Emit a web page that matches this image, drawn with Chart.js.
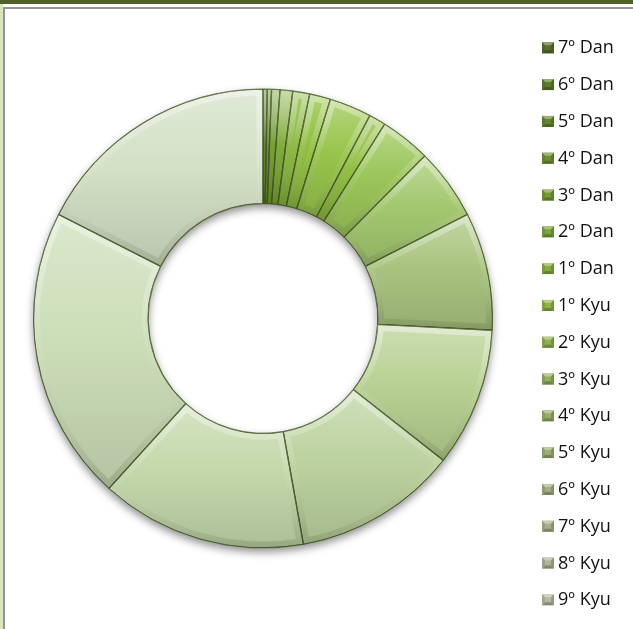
<!DOCTYPE html>
<html>
<head>
<meta charset="utf-8">
<script src="https://cdn.jsdelivr.net/npm/chart.js@4.4.1/dist/chart.umd.min.js"></script>
<style>
  html, body { margin: 0; padding: 0; background: #fff; }
  #wrap { position: relative; width: 633px; height: 629px; overflow: hidden; }
  #topbar { position: absolute; left: 0; top: 0; width: 633px; height: 4px; background: #4f6228; }
  #sidebar { position: absolute; left: 0; top: 4px; width: 3px; height: 625px; background: #d7e4bd; }
  #frame { position: absolute; left: 3px; top: 7px; width: 660px; height: 660px; box-sizing: border-box;
           border-top: 2px solid #959595; border-left: 2px solid #959595; }
  canvas { position: absolute; left: 0; top: 0; }
</style>
</head>
<body>
<div id="wrap">
  <div id="topbar"></div>
  <div id="sidebar"></div>
  <div id="frame"></div>
  <canvas id="grades" width="633" height="629"></canvas>
</div>
<script>
// students per grade, highest first
const grades = ['7º Dan', '6º Dan', '5º Dan', '4º Dan', '3º Dan', '2º Dan', '1º Dan',
                '1º Kyu', '2º Kyu', '3º Kyu', '4º Kyu', '5º Kyu', '6º Kyu', '7º Kyu', '8º Kyu', '9º Kyu'];
const students = [1, 1, 2, 3, 4, 5, 10, 4, 12, 17, 28, 33, 39, 49, 70, 59];

const sliceColors = ['#5a7f24', '#64891f', '#6f9a2a', '#79a830', '#86b638', '#8fbf3f', '#97c54b', '#8dbd3d',
                     '#9bc65a', '#a3c86f', '#a9c47f', '#b7d092', '#bcd29f', '#c4d8ab', '#ccdeb8', '#d3e0c5'];
const keyColors = ['#56702a', '#5d7b2c', '#64862f', '#6c9133', '#749b37', '#7ca43c', '#84ac40', '#8bb345',
                   '#8eb14f', '#92af5b', '#96ad67', '#9aad72', '#9fae7e', '#a5b189', '#acb595', '#b4bba2'];

function shade(hex, amt) {
  const n = parseInt(hex.slice(1), 16);
  const t = amt < 0 ? 0 : 255, p = Math.abs(amt);
  const mix = v => Math.round(v + (t - v) * p);
  return 'rgb(' + mix(n >> 16) + ',' + mix((n >> 8) & 255) + ',' + mix(n & 255) + ')';
}

// top and bottom y of a ring segment, angles clockwise from 12 o'clock
function segmentSpan(cy, rIn, rOut, a0, a1) {
  const ys = [];
  [a0, a1].forEach(a => [rIn, rOut].forEach(r => ys.push(cy - r * Math.cos(a))));
  if (a0 <= Math.PI && a1 >= Math.PI) ys.push(cy + rOut);
  return [Math.min(...ys), Math.max(...ys)];
}

// vertical light-to-dark gradient across each slice's own height
function sliceFill(ctx) {
  const chart = ctx.chart;
  const area = chart.chartArea;
  const base = sliceColors[ctx.dataIndex];
  if (!area) return base;
  const cy = (area.top + area.bottom) / 2;
  const rOut = Math.min(area.width, area.height) / 2;
  const total = students.reduce((a, b) => a + b, 0);
  let before = 0;
  for (let k = 0; k < ctx.dataIndex; k++) before += students[k];
  const a0 = before / total * 2 * Math.PI;
  const a1 = (before + students[ctx.dataIndex]) / total * 2 * Math.PI;
  const [top, bottom] = segmentSpan(cy, rOut * 0.5, rOut, a0, a1);
  const g = chart.ctx.createLinearGradient(0, top, 0, bottom + 1);
  g.addColorStop(0, shade(base, 0.3));
  g.addColorStop(0.45, base);
  g.addColorStop(1, shade(base, -0.12));
  return g;
}

function arcPath(c, p) {
  c.beginPath();
  c.arc(p.x, p.y, p.outerRadius, p.startAngle, p.endAngle);
  c.arc(p.x, p.y, p.innerRadius, p.endAngle, p.startAngle, true);
  c.closePath();
}

const arcProps = ['x', 'y', 'startAngle', 'endAngle', 'innerRadius', 'outerRadius'];

// drop shadow under the ring and a bevelled edge on every slice
const ringEffects = {
  id: 'ringEffects',
  beforeDatasetsDraw(chart) {
    const arc = chart.getDatasetMeta(0).data[0];
    if (!arc) return;
    const p = arc.getProps(arcProps, true);
    const c = chart.ctx;
    c.save();
    c.shadowColor = 'rgba(0,0,0,0.45)';
    c.shadowBlur = 9;
    c.shadowOffsetY = 4;
    c.fillStyle = '#fff';
    c.beginPath();
    c.arc(p.x, p.y, p.outerRadius, 0, Math.PI * 2);
    c.arc(p.x, p.y, p.innerRadius, 0, Math.PI * 2, true);
    c.fill();
    c.restore();
  },
  afterDatasetsDraw(chart) {
    const c = chart.ctx;
    chart.getDatasetMeta(0).data.forEach(arc => {
      const p = arc.getProps(arcProps, true);
      const a0 = p.startAngle + Math.PI / 2, a1 = p.endAngle + Math.PI / 2;
      const [top, bottom] = segmentSpan(p.y, p.innerRadius, p.outerRadius, a0, a1);
      const g = c.createLinearGradient(0, top, 0, bottom + 1);
      g.addColorStop(0, 'rgba(255,255,255,0.42)');
      g.addColorStop(0.5, 'rgba(255,255,255,0.06)');
      g.addColorStop(1, 'rgba(30,40,10,0.16)');
      c.save();
      arcPath(c, p);
      c.clip();
      arcPath(c, p);
      c.lineWidth = 13;
      c.lineJoin = 'miter';
      c.strokeStyle = g;
      c.stroke();
      arcPath(c, p);
      c.lineWidth = 1.4;
      c.strokeStyle = 'rgba(62,80,30,0.8)';
      c.stroke();
      c.restore();
    });
  }
};

function keyBox(c, x, y, w, h, color) {
  const b = 3;
  c.fillStyle = color;
  c.fillRect(x, y, w, h);
  const face = (pts, fill) => {
    c.beginPath();
    c.moveTo(pts[0], pts[1]);
    for (let i = 2; i < pts.length; i += 2) c.lineTo(pts[i], pts[i + 1]);
    c.closePath();
    c.fillStyle = fill;
    c.fill();
  };
  face([x, y, x + w, y, x + w - b, y + b, x + b, y + b], shade(color, 0.35));
  face([x, y + h, x + w, y + h, x + w - b, y + h - b, x + b, y + h - b], shade(color, -0.25));
  face([x, y, x + b, y + b, x + b, y + h - b, x, y + h], shade(color, -0.1));
  face([x + w, y, x + w - b, y + b, x + w - b, y + h - b, x + w, y + h], shade(color, -0.18));
}

// legend list on the right, one row per grade
const gradeKey = {
  id: 'gradeKey',
  afterDraw(chart, args, opts) {
    const c = chart.ctx;
    c.save();
    c.font = opts.font;
    c.textBaseline = 'alphabetic';
    grades.forEach((label, i) => {
      const base = opts.y + i * opts.step;
      keyBox(c, opts.x, base - 11, 12, 11, keyColors[i]);
      c.fillStyle = opts.color;
      c.fillText(label, opts.x + 16, base);
    });
    c.restore();
  }
};

new Chart(document.getElementById('grades'), {
  type: 'doughnut',
  data: {
    labels: grades,
    datasets: [{
      data: students,
      backgroundColor: sliceFill,
      borderColor: 'rgba(62,80,30,0.8)',
      borderWidth: 1,
      hoverOffset: 0
    }]
  },
  options: {
    responsive: false,
    animation: false,
    events: [],
    cutout: '50%',
    layout: { padding: { left: 33, right: 140, top: 88, bottom: 80 } },
    plugins: {
      legend: { display: false },
      tooltip: { enabled: false },
      gradeKey: { x: 542, y: 53.3, step: 36.8, font: '18px "Open Sans"', color: '#111' }
    }
  },
  plugins: [ringEffects, gradeKey]
});
</script>
</body>
</html>
